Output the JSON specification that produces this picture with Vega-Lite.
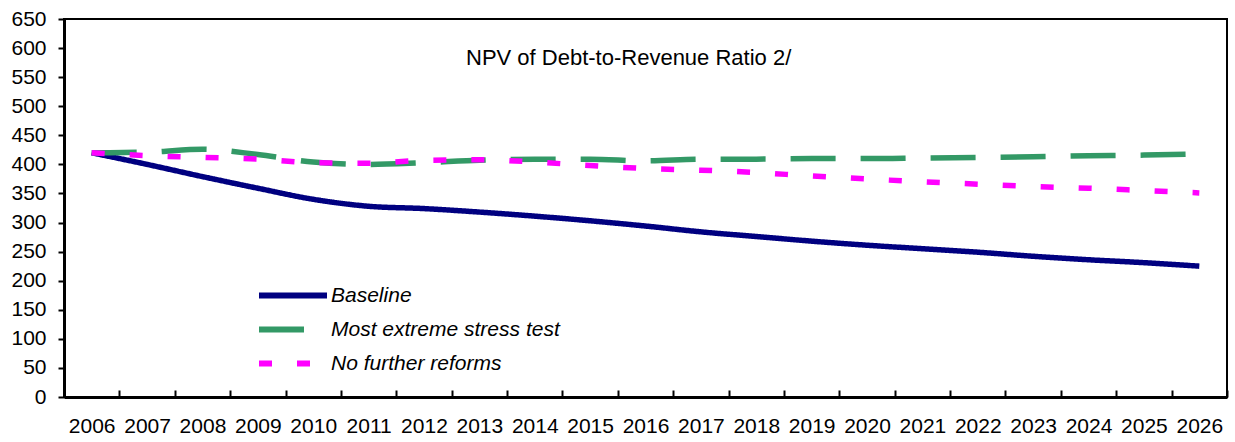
{
  "$schema": "https://vega.github.io/schema/vega-lite/v6.json",
  "autosize": "none",
  "width": 1163,
  "height": 378,
  "padding": {"left": 64, "top": 19, "right": 8, "bottom": 45},
  "background": "white",
  "config": {
    "font": "Liberation Sans",
    "view": {"stroke": "black", "strokeWidth": 2}
  },
  "title": {
    "text": "NPV of Debt-to-Revenue Ratio 2/",
    "orient": "top",
    "anchor": "start",
    "frame": "group",
    "dx": 402,
    "offset": -62,
    "fontSize": 22,
    "fontWeight": "normal",
    "color": "black",
    "font": "Liberation Sans"
  },
  "data": {
    "values": [
      {"year": "2006", "series": "Baseline", "value": 420},
      {"year": "2007", "series": "Baseline", "value": 400},
      {"year": "2008", "series": "Baseline", "value": 379},
      {"year": "2009", "series": "Baseline", "value": 359},
      {"year": "2010", "series": "Baseline", "value": 340},
      {"year": "2011", "series": "Baseline", "value": 328},
      {"year": "2012", "series": "Baseline", "value": 324},
      {"year": "2013", "series": "Baseline", "value": 318},
      {"year": "2014", "series": "Baseline", "value": 311},
      {"year": "2015", "series": "Baseline", "value": 303},
      {"year": "2016", "series": "Baseline", "value": 294},
      {"year": "2017", "series": "Baseline", "value": 284},
      {"year": "2018", "series": "Baseline", "value": 276},
      {"year": "2019", "series": "Baseline", "value": 268},
      {"year": "2020", "series": "Baseline", "value": 261},
      {"year": "2021", "series": "Baseline", "value": 255},
      {"year": "2022", "series": "Baseline", "value": 249},
      {"year": "2023", "series": "Baseline", "value": 242},
      {"year": "2024", "series": "Baseline", "value": 236},
      {"year": "2025", "series": "Baseline", "value": 231},
      {"year": "2026", "series": "Baseline", "value": 225},
      {"year": "2006", "series": "Most extreme stress test", "value": 420},
      {"year": "2007", "series": "Most extreme stress test", "value": 421},
      {"year": "2008", "series": "Most extreme stress test", "value": 426},
      {"year": "2009", "series": "Most extreme stress test", "value": 417},
      {"year": "2010", "series": "Most extreme stress test", "value": 404},
      {"year": "2011", "series": "Most extreme stress test", "value": 400},
      {"year": "2012", "series": "Most extreme stress test", "value": 403},
      {"year": "2013", "series": "Most extreme stress test", "value": 407},
      {"year": "2014", "series": "Most extreme stress test", "value": 409},
      {"year": "2015", "series": "Most extreme stress test", "value": 409},
      {"year": "2016", "series": "Most extreme stress test", "value": 406},
      {"year": "2017", "series": "Most extreme stress test", "value": 409},
      {"year": "2018", "series": "Most extreme stress test", "value": 409},
      {"year": "2019", "series": "Most extreme stress test", "value": 410},
      {"year": "2020", "series": "Most extreme stress test", "value": 410},
      {"year": "2021", "series": "Most extreme stress test", "value": 411},
      {"year": "2022", "series": "Most extreme stress test", "value": 412},
      {"year": "2023", "series": "Most extreme stress test", "value": 413},
      {"year": "2024", "series": "Most extreme stress test", "value": 415},
      {"year": "2025", "series": "Most extreme stress test", "value": 416},
      {"year": "2026", "series": "Most extreme stress test", "value": 418},
      {"year": "2006", "series": "No further reforms", "value": 420},
      {"year": "2007", "series": "No further reforms", "value": 415},
      {"year": "2008", "series": "No further reforms", "value": 412},
      {"year": "2009", "series": "No further reforms", "value": 409},
      {"year": "2010", "series": "No further reforms", "value": 403},
      {"year": "2011", "series": "No further reforms", "value": 402},
      {"year": "2012", "series": "No further reforms", "value": 407},
      {"year": "2013", "series": "No further reforms", "value": 408},
      {"year": "2014", "series": "No further reforms", "value": 404},
      {"year": "2015", "series": "No further reforms", "value": 398},
      {"year": "2016", "series": "No further reforms", "value": 393},
      {"year": "2017", "series": "No further reforms", "value": 390},
      {"year": "2018", "series": "No further reforms", "value": 386},
      {"year": "2019", "series": "No further reforms", "value": 380},
      {"year": "2020", "series": "No further reforms", "value": 375},
      {"year": "2021", "series": "No further reforms", "value": 370},
      {"year": "2022", "series": "No further reforms", "value": 366},
      {"year": "2023", "series": "No further reforms", "value": 362},
      {"year": "2024", "series": "No further reforms", "value": 359},
      {"year": "2025", "series": "No further reforms", "value": 355},
      {"year": "2026", "series": "No further reforms", "value": 351}
    ]
  },
  "mark": {"type": "line", "strokeWidth": 5.5, "strokeCap": "butt", "interpolate": "monotone"},
  "encoding": {
    "x": {
      "field": "year",
      "type": "ordinal",
      "scale": {"paddingInner": 0, "paddingOuter": 0},
      "axis": {
        "title": null,
        "labelAngle": 0,
        "labelFontSize": 21,
        "labelColor": "black",
        "labelFont": "Liberation Sans",
        "tickBand": "extent",
        "tickSize": -7,
        "tickColor": "black",
        "tickWidth": 2,
        "domainColor": "black",
        "domainWidth": 3,
        "labelPadding": 25,
        "grid": false
      }
    },
    "y": {
      "field": "value",
      "type": "quantitative",
      "scale": {"domain": [0, 650], "nice": false},
      "axis": {
        "title": null,
        "values": [0, 50, 100, 150, 200, 250, 300, 350, 400, 450, 500, 550, 600, 650],
        "labelFontSize": 21,
        "labelColor": "black",
        "labelFont": "Liberation Sans",
        "tickSize": 6,
        "tickColor": "black",
        "tickWidth": 2,
        "domainColor": "black",
        "domainWidth": 3,
        "labelPadding": 12,
        "grid": false
      }
    },
    "color": {
      "field": "series",
      "type": "nominal",
      "scale": {
        "domain": ["Baseline", "Most extreme stress test", "No further reforms"],
        "range": ["#000080", "#339966", "#FF00FF"]
      },
      "legend": {
        "title": null,
        "orient": "none",
        "legendX": 192,
        "legendY": 266,
        "padding": 0,
        "symbolType": "stroke",
        "symbolSize": 4624,
        "symbolStrokeWidth": 6,
        "clipHeight": 21,
        "labelFontSize": 21,
        "labelFontStyle": "italic",
        "labelColor": "black",
        "labelFont": "Liberation Sans",
        "labelOffset": 1,
        "rowPadding": 12,
        "labelLimit": 400
      }
    },
    "strokeDash": {
      "field": "series",
      "type": "nominal",
      "scale": {
        "domain": ["Baseline", "Most extreme stress test", "No further reforms"],
        "range": [[1, 0], [45, 25], [13, 25]]
      },
      "legend": {
        "title": null,
        "orient": "none",
        "legendX": 192,
        "legendY": 266,
        "padding": 0,
        "symbolType": "stroke",
        "symbolSize": 4624,
        "symbolStrokeWidth": 6,
        "clipHeight": 21,
        "labelFontSize": 21,
        "labelFontStyle": "italic",
        "labelColor": "black",
        "labelFont": "Liberation Sans",
        "labelOffset": 1,
        "rowPadding": 12,
        "labelLimit": 400
      }
    }
  }
}
